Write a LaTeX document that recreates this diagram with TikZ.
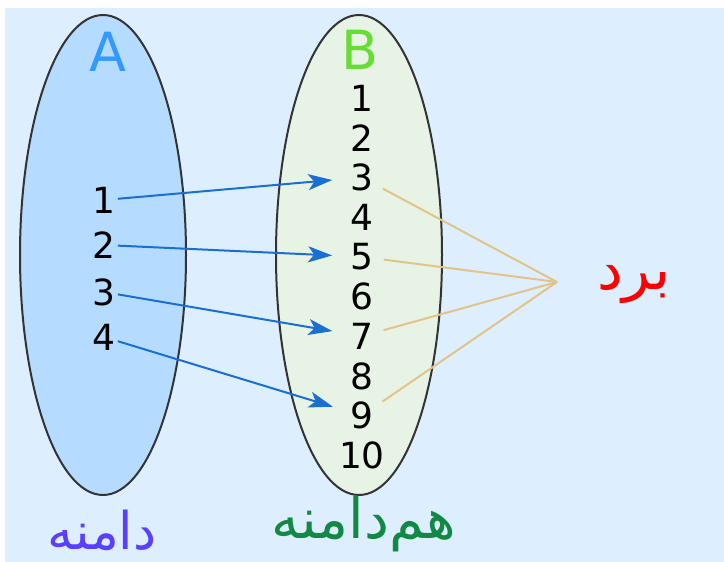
\documentclass[tikz,border=0pt]{standalone}
\usepackage{fontspec}
\setmainfont{DejaVu Sans}
\newfontfamily\arabicfont[Script=Arabic]{DejaVu Sans}
\TeXXeTstate=1
\usetikzlibrary{shapes.geometric,arrows.meta}
\definecolor{bgblue}{HTML}{DDEEFF}
\definecolor{setAfill}{HTML}{B5DBFF}
\definecolor{setBfill}{HTML}{E7F3E5}
\definecolor{Ablue}{HTML}{3399FF}
\definecolor{Bgreen}{HTML}{66DD33}
\definecolor{arrowblue}{HTML}{1A6FD0}
\definecolor{rangetan}{HTML}{E3C488}
\definecolor{domainpurple}{HTML}{5B3FFF}
\definecolor{codomaingreen}{HTML}{118844}
\definecolor{rangered}{HTML}{FF0000}
\tikzset{
  setshape/.style={ellipse, draw=black!80, line width=1pt, inner sep=0pt,
    minimum width=83pt, minimum height=240pt},
  setname/.style={font=\fontsize{27}{27}\selectfont},
  num/.style={inner sep=1pt, font=\fontsize{18}{18}\selectfont},
  maparrow/.style={-{Stealth[length=12pt,width=8pt,inset=3pt]}, draw=arrowblue,
    line width=1pt, shorten >=8pt},
  rangeline/.style={draw=rangetan, line width=1pt, shorten <=4pt},
  fatext/.style={font=\arabicfont\fontsize{26}{26}\selectfont},
}
\begin{document}
\begin{tikzpicture}[x=0.5pt,y=-0.5pt]
\useasboundingbox (0,0) rectangle (724,562);
\fill[bgblue] (5,8) rectangle (724,562);
% the two sets
\node[setshape, fill=setAfill] (setA) at (103,255) {};
\node[setshape, fill=setBfill] (setB) at (359,255) {};
\node[setname, text=Ablue] (labA) at (108,52) {A};
\node[setname, text=Bgreen] (labB) at (360,50) {B};
% elements
\foreach \i/\y in {1/200,2/245,3/292,4/337}
  \node[num] (a\i) at (104,\y) {\i};
\foreach \j in {1,...,10}
  \node[num] (b\j) at (362,{98+39.7*(\j-1)}) {\j};
% the function
\foreach \i/\j in {1/3,2/5,3/7,4/9}
  \draw[maparrow] (a\i) -- (b\j);
% range
\coordinate (apex) at (557,282);
\foreach \j in {3,5,7,9}
  \draw[rangeline] (b\j) -- (apex);
\node[fatext, text=rangered, font=\arabicfont\fontsize{29}{29}\selectfont] (range) at (634,285) {\beginR برد\endR};
\node[fatext, text=domainpurple] (domain) at (102,530) {\beginR دامنه\endR};
\node[fatext, text=codomaingreen, font=\arabicfont\fontsize{28}{28}\selectfont] (codomain) at (364,524) {\beginR هم‌دامنه\endR};
\end{tikzpicture}
\end{document}
